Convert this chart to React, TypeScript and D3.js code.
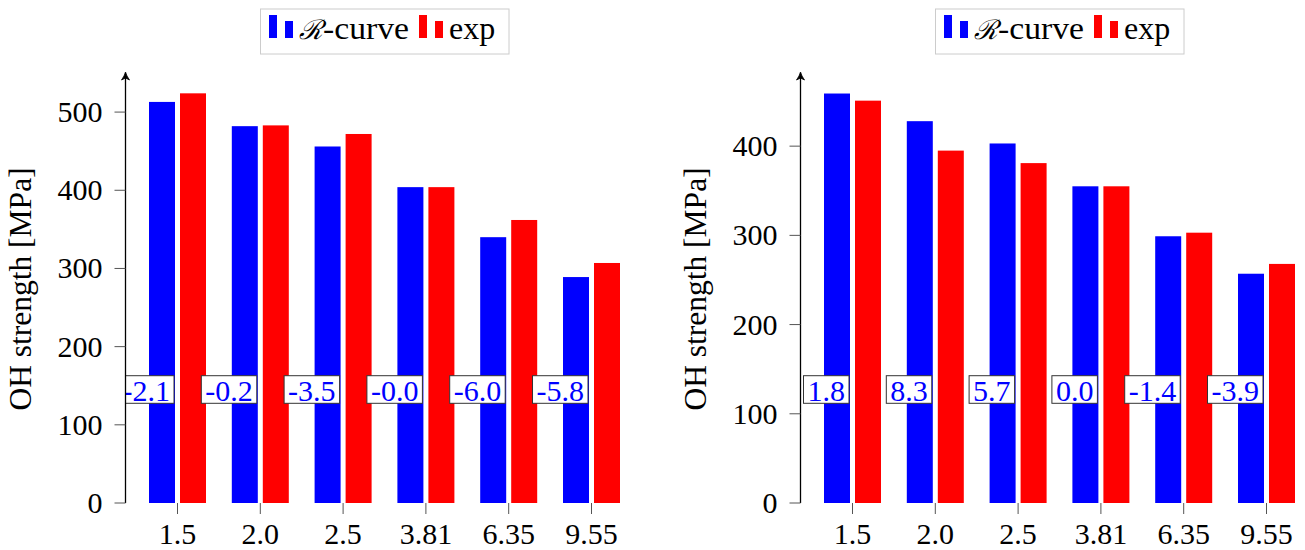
import React from "react";
import * as d3 from "d3";

const categories = ["1.5", "2.0", "2.5", "3.81", "6.35", "9.55"];

const leftRcurve = [513, 482, 456, 404, 340, 289];
const leftExp = [524, 483, 472, 404, 362, 307];
const leftDiff = ["-2.1", "-0.2", "-3.5", "-0.0", "-6.0", "-5.8"];
const leftTicks = [0, 100, 200, 300, 400, 500];
const leftMax = 550;

const rightRcurve = [459, 428, 403, 355, 299, 257];
const rightExp = [451, 395, 381, 355, 303, 268];
const rightDiff = ["1.8", "8.3", "5.7", "0.0", "-1.4", "-3.9"];
const rightTicks = [0, 100, 200, 300, 400];
const rightMax = 482;

const seriesNames = ["-curve", "exp"];
const seriesColors = ["#0000ff", "#ff0000"];
const yLabel = "OH strength [MPa]";

const FONT = "'Liberation Serif', 'Times New Roman', serif";
const FS = 30;

type PanelProps = {
  ox: number;
  id: string;
  rc: number[];
  ex: number[];
  diff: string[];
  ticks: number[];
  yMax: number;
};

function Panel({ ox, id, rc, ex, diff, ticks, yMax }: PanelProps) {
  const axisX = ox + 125.5;
  const x = d3.scalePoint<string>().domain(categories).range([axisX + 52, axisX + 466]);
  const y = d3.scaleLinear().domain([0, yMax]).range([503, 73]);
  const bw = 26;
  const gap = 2.5;
  const labelCy = 389.5;
  const charW = (s: string) =>
    Array.from(s).reduce((a, c) => a + (c === "-" ? 0.333 : c === "." ? 0.25 : 0.5), 0) * FS;
  const lg = ox + 260.5;
  return (
    <g>
      <defs>
        <clipPath id={"clip" + id}>
          <rect x={axisX} y={0} width={700} height={550} />
        </clipPath>
      </defs>
      {/* legend */}
      <rect x={lg} y={9} width={248.5} height={45} fill="white" stroke="#cccccc" strokeWidth={1} />
      <rect x={ox + 269} y={15} width={8} height={23} fill={seriesColors[0]} />
      <rect x={ox + 285} y={21} width={8} height={17} fill={seriesColors[0]} />
      <text x={ox + 299} y={39} fontFamily={FONT} fontSize={32} fill="black">
        <tspan fontStyle="italic" fontFamily="'DejaVu Serif', serif" fontSize={27}>ℛ</tspan>
        <tspan textLength={86} lengthAdjust="spacingAndGlyphs">{seriesNames[0]}</tspan>
      </text>
      <rect x={ox + 419} y={15} width={8} height={23} fill={seriesColors[1]} />
      <rect x={ox + 435} y={21} width={8} height={17} fill={seriesColors[1]} />
      <text x={ox + 449} y={39} fontFamily={FONT} fontSize={32} fill="black">
        {seriesNames[1]}
      </text>

      {/* bars */}
      {categories.map((c, i) => (
        <g key={c}>
          <rect
            x={(x(c) as number) - gap - bw}
            y={y(rc[i])}
            width={bw}
            height={y(0) - y(rc[i])}
            fill={seriesColors[0]}
          />
          <rect
            x={(x(c) as number) + gap}
            y={y(ex[i])}
            width={bw}
            height={y(0) - y(ex[i])}
            fill={seriesColors[1]}
          />
        </g>
      ))}

      {/* diff labels */}
      <g clipPath={`url(#clip${id})`}>
        {categories.map((c, i) => {
          const w = charW(diff[i]) + 8;
          const right = (x(c) as number) - 3.5;
          return (
            <g key={c}>
              <rect
                x={right - w}
                y={labelCy - 13.8}
                width={w}
                height={27.6}
                fill="white"
                stroke="#333"
                strokeWidth={1}
              />
              <text
                x={right - w / 2}
                y={labelCy + 11}
                textAnchor="middle"
                fontFamily={FONT}
                fontSize={FS}
                fill="#0000ff"
              >
                {diff[i]}
              </text>
            </g>
          );
        })}
      </g>

      {/* y axis */}
      <line x1={axisX} x2={axisX} y1={503} y2={75} stroke="black" strokeWidth={1.3} />
      <path
        d={`M${axisX - 4},${80} Q${axisX - 1},${76} ${axisX},${72} Q${axisX + 1},${76} ${axisX + 4},${80} L${axisX},${78} Z`}
        fill="black"
        stroke="black"
        strokeWidth={0.8}
      />
      {ticks.map((t) => (
        <g key={t}>
          <line x1={axisX - 11} x2={axisX} y1={y(t)} y2={y(t)} stroke="#555" strokeWidth={1} />
          <text
            x={axisX - 23}
            y={y(t) + 10}
            textAnchor="end"
            fontFamily={FONT}
            fontSize={FS}
            fill="black"
          >
            {t}
          </text>
        </g>
      ))}

      {/* x ticks */}
      {categories.map((c) => (
        <g key={c}>
          <line
            x1={x(c) as number}
            x2={x(c) as number}
            y1={503}
            y2={514}
            stroke="#555"
            strokeWidth={1}
          />
          <text
            x={x(c) as number}
            y={544}
            textAnchor="middle"
            fontFamily={FONT}
            fontSize={FS}
            fill="black"
          >
            {c}
          </text>
        </g>
      ))}

      {/* y label */}
      <text
        transform={`translate(${ox + 31},${289}) rotate(-90)`}
        textAnchor="middle"
        fontFamily={FONT}
        fontSize={31.5}
        fill="black"
      >
        {yLabel}
      </text>
    </g>
  );
}

export default function App() {
  return (
    <svg
      width={1305}
      height={550}
      style={{ position: "absolute", left: 0, top: 0, background: "white" }}
    >
      <rect x={0} y={0} width={1305} height={550} fill="white" />
      <Panel ox={0} id="L" rc={leftRcurve} ex={leftExp} diff={leftDiff} ticks={leftTicks} yMax={leftMax} />
      <Panel ox={675} id="R" rc={rightRcurve} ex={rightExp} diff={rightDiff} ticks={rightTicks} yMax={rightMax} />
    </svg>
  );
}
